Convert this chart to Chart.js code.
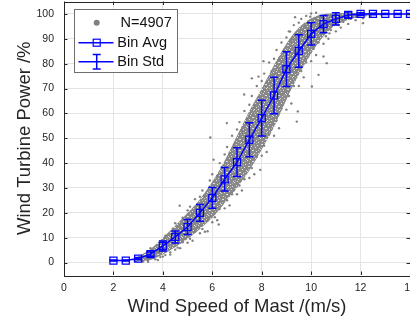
<!DOCTYPE html>
<html>
<head>
<meta charset="utf-8">
<script src="https://cdn.jsdelivr.net/npm/chart.js@4.4.1/dist/chart.umd.min.js"></script>
<style>
  html, body { margin: 0; padding: 0; background: #fff; overflow: hidden; }
  #wrap { width: 410px; height: 325px; overflow: hidden; }
</style>
</head>
<body>
<div id="wrap"><canvas id="c" width="430" height="325"></canvas></div>
<script>
// Ветровая турбина: облако точек + средние по бинам со std.

// ---- данные ----
const binX = [2, 2.5, 3, 3.5, 4, 4.5, 5, 5.5, 6, 6.5, 7, 7.5, 8, 8.5, 9, 9.5, 10, 10.5, 11, 11.5, 12, 12.5, 13, 13.5, 14];
const binAvg = [0.8, 0.8, 1.6, 3.4, 6.7, 10.3, 14.3, 20.0, 26.0, 33.5, 40.4, 49.4, 58.1, 67.2, 77.8, 85.1, 92.0, 95.9, 98.0, 99.6, 100, 100, 100, 100, 100];
const binStd = [0.2, 0.2, 0.4, 0.9, 2.0, 2.4, 3.0, 3.4, 4.2, 4.7, 5.8, 6.8, 7.2, 7.3, 7.0, 6.5, 4.5, 3.5, 2.5, 1.2, 0.5, 0.3, 0.2, 0.2, 0.2];

// плотное ядро облака (нижняя / верхняя граница)
const bandX    = [2.8, 3.0, 3.5, 4.0, 4.5, 5.0, 5.5, 6.0, 6.5, 7.0, 7.5, 8.0, 8.5, 9.0, 9.5, 10.0, 10.5, 11.0, 11.5, 12.0, 12.5, 12.9];
const bandLow  = [0.4, 0.5, 1.0, 3.2, 6.2, 9.5, 13.5, 18.0, 24.0, 30.0, 37.0, 45.5, 54.5, 65.5, 75.5, 84.0, 91.0, 95.5, 97.6, 99.0, 99.6, 99.8];
const bandHigh = [1.0, 2.4, 5.5, 10.0, 14.8, 20.0, 25.5, 32.5, 41.0, 51.0, 61.0, 70.0, 79.5, 88.0, 94.5, 98.3, 99.9, 100.3, 100.4, 100.4, 100.3, 100.2];

// отдельные точки по краям облака и выбросы
const scatterPts = [
  [2.9, 0.6], [3.1, 1.0], [3.2, 0.4], [3.3, 1.8], [3.4, 0.9], [3.6, 2.6], [3.7, 1.3], [3.8, 4.4],
  [3.9, 2.2], [4.1, 3.0], [4.2, 7.8], [4.3, 4.1], [4.4, 11.5], [4.6, 6.0], [4.7, 13.8], [4.8, 8.2],
  [4.9, 16.5], [5.1, 9.6], [5.2, 19.8], [5.3, 12.4], [5.4, 23.5], [5.6, 13.5], [5.7, 27.0], [5.8, 16.8],
  [5.9, 30.5], [6.1, 18.2], [6.2, 34.8], [6.3, 21.5], [6.4, 38.5], [6.6, 25.0], [6.7, 44.0], [6.8, 27.5],
  [6.9, 47.5], [7.1, 31.0], [7.2, 52.5], [7.3, 33.5], [7.4, 57.5], [7.6, 38.0], [7.7, 63.0], [7.8, 42.5],
  [7.9, 66.5], [8.1, 47.0], [8.2, 72.5], [8.3, 51.5], [8.4, 77.0], [8.6, 57.0], [8.7, 81.5], [8.8, 62.0],
  [8.9, 85.5], [9.1, 67.0], [9.2, 89.5], [9.3, 71.0], [9.4, 92.0], [9.6, 77.0], [9.7, 95.0], [9.8, 80.5],
  [9.9, 96.5], [10.1, 86.0], [10.2, 98.0], [10.3, 88.5], [10.4, 99.0], [10.6, 91.0], [10.7, 99.5], [10.8, 93.5],
  [11.1, 95.5], [11.3, 96.8], [11.4, 100.6], [11.6, 98.0], [11.8, 98.8], [12.0, 100.6], [12.2, 99.4], [12.4, 99.8],
  [12.6, 100.5], [12.8, 99.9], [13.0, 100.1],
  // левая (верхняя) кромка
  [3.5, 5.8], [3.9, 8.5], [4.1, 10.8], [4.4, 13.6], [4.5, 15.8], [4.8, 18.0], [5.0, 21.0], [5.1, 22.5],
  [5.3, 25.5], [5.5, 26.5], [5.6, 29.0], [5.9, 33.0], [6.0, 35.5], [6.3, 40.0], [6.5, 43.5], [6.6, 46.5],
  [6.8, 51.0], [7.0, 53.5], [7.1, 56.5], [7.3, 61.0], [7.5, 63.5], [7.6, 67.0], [7.8, 71.0], [8.0, 73.0],
  [8.1, 76.0], [8.3, 80.5], [8.5, 82.0], [8.6, 85.5], [8.8, 88.5], [9.0, 90.5], [9.1, 93.0], [9.3, 95.5],
  [9.5, 96.5], [9.6, 98.0], [9.8, 99.2], [10.0, 100.2], [10.2, 100.5],
  // правая (нижняя) кромка
  [3.4, 0.3], [3.8, 1.0], [4.0, 2.4], [4.3, 3.2], [4.5, 5.2], [4.7, 5.8], [5.0, 8.0], [5.2, 8.8],
  [5.5, 11.8], [5.7, 12.4], [6.0, 16.2], [6.2, 17.0], [6.5, 21.8], [6.7, 23.0], [7.0, 27.5], [7.2, 29.0],
  [7.5, 34.0], [7.7, 35.5], [8.0, 43.0], [8.2, 44.5], [8.5, 51.0], [8.7, 54.0], [9.0, 61.5], [9.2, 64.0],
  [9.5, 71.0], [9.7, 74.5], [10.0, 81.0], [10.2, 83.5], [10.5, 88.0], [10.7, 90.0], [11.0, 93.0], [11.2, 94.5],
  [11.5, 96.0], [11.8, 97.5], [12.1, 98.3], [12.4, 99.0],
  // выбросы
  [4.68, 22.9], [5.81, 12.6], [6.26, 15.3], [5.92, 50.3], [6.05, 41.4], [6.59, 56.1], [7.94, 37.3],
  [7.29, 67.6], [7.6, 74.1], [7.87, 74.8], [8.07, 81.0], [9.08, 73.5], [9.42, 56.7], [9.46, 60.8],
  [9.15, 92.9], [9.35, 98.7], [9.96, 98.9], [10.03, 70.8], [10.3, 75.5], [10.5, 82.9], [10.63, 80.2],
  [10.74, 92.2], [11.17, 96.9], [12.1, 96.3]
];

const xTicks = [0, 2, 4, 6, 8, 10, 12, 14];
const yTicks = [0, 10, 20, 30, 40, 50, 60, 70, 80, 90, 100];

const N_LABEL = 'N=4907';
const BLUE = '#0000ff';
const GRAY = '#808080';
const AXIS = '#262626';
const FONT = "'Liberation Sans', Arial, Helvetica, sans-serif";

// ---- текстура ядра облака ----
function speckle() {
  const c = document.createElement('canvas');
  c.width = 13; c.height = 11;
  const g = c.getContext('2d');
  g.fillStyle = '#888888';
  g.fillRect(0, 0, 13, 11);
  g.fillStyle = 'rgba(255,255,255,0.75)';
  const holes = [[1, 1], [2, 1], [6, 0], [10, 2], [4, 3], [8, 4], [12, 5], [0, 6], [5, 7], [6, 7],
                 [9, 8], [2, 9], [11, 10], [7, 10], [3, 5]];
  holes.forEach(([x, y]) => g.fillRect(x, y, 1, 1));
  g.fillStyle = 'rgba(255,255,255,0.4)';
  [[9, 0], [1, 4], [11, 7], [4, 10], [7, 2]].forEach(([x, y]) => g.fillRect(x, y, 1, 1));
  return g.createPattern(c, 'repeat');
}

// ---- плагины: рамка, засечки внутрь, error bars, легенда ----
const boxPlugin = {
  id: 'box',
  afterDraw(chart) {
    const { ctx, chartArea: a, scales: { x, y } } = chart;
    ctx.save();
    ctx.strokeStyle = AXIS;
    ctx.lineWidth = 1;
    ctx.beginPath();
    xTicks.forEach(v => {
      const px = Math.round(x.getPixelForValue(v)) + 0.5;
      ctx.moveTo(px, a.bottom); ctx.lineTo(px, a.bottom - 3.5);
      ctx.moveTo(px, a.top); ctx.lineTo(px, a.top + 3.5);
    });
    yTicks.forEach(v => {
      const py = Math.round(y.getPixelForValue(v)) + 0.5;
      ctx.moveTo(a.left, py); ctx.lineTo(a.left + 3.5, py);
      ctx.moveTo(a.right, py); ctx.lineTo(a.right - 3.5, py);
    });
    ctx.stroke();
    ctx.strokeRect(Math.round(a.left) + 0.5, Math.round(a.top) + 0.5,
      Math.round(a.right - a.left), Math.round(a.bottom - a.top));
    ctx.restore();
  }
};

const errPlugin = {
  id: 'errbars',
  afterDatasetsDraw(chart) {
    const { ctx, scales: { x, y } } = chart;
    ctx.save();
    ctx.strokeStyle = BLUE;
    ctx.lineWidth = 1.5;
    ctx.beginPath();
    binX.forEach((bx, i) => {
      const px = x.getPixelForValue(bx);
      const hi = y.getPixelForValue(binAvg[i] + binStd[i]);
      const lo = y.getPixelForValue(binAvg[i] - binStd[i]);
      ctx.moveTo(px, hi); ctx.lineTo(px, lo);
      ctx.moveTo(px - 4, hi); ctx.lineTo(px + 4, hi);
      ctx.moveTo(px - 4, lo); ctx.lineTo(px + 4, lo);
    });
    ctx.stroke();
    ctx.restore();
  }
};

const legendPlugin = {
  id: 'matLegend',
  afterDraw(chart) {
    const ctx = chart.ctx;
    ctx.save();
    ctx.fillStyle = '#fff';
    ctx.fillRect(74.5, 9.5, 103, 63);
    ctx.strokeStyle = '#6e6e6e';
    ctx.lineWidth = 1;
    ctx.strokeRect(74.5, 9.5, 103, 63);

    // N
    ctx.fillStyle = GRAY;
    ctx.beginPath();
    ctx.arc(96.7, 22.7, 3, 0, Math.PI * 2);
    ctx.fill();

    // Bin Avg
    ctx.strokeStyle = BLUE;
    ctx.lineWidth = 1.5;
    ctx.beginPath();
    ctx.moveTo(78.5, 42.7); ctx.lineTo(113.5, 42.7);
    ctx.stroke();
    ctx.lineWidth = 1.2;
    ctx.strokeRect(93.2, 39.2, 7, 7);

    // Bin Std
    ctx.lineWidth = 1.5;
    ctx.beginPath();
    ctx.moveTo(78.5, 61.7); ctx.lineTo(113.5, 61.7);
    ctx.moveTo(96.7, 54.5); ctx.lineTo(96.7, 69);
    ctx.moveTo(92.7, 54.5); ctx.lineTo(100.7, 54.5);
    ctx.moveTo(92.7, 69); ctx.lineTo(100.7, 69);
    ctx.stroke();

    ctx.fillStyle = '#111';
    ctx.font = `14.5px ${FONT}`;
    ctx.textBaseline = 'middle';
    ctx.textAlign = 'left';
    ctx.fillText(N_LABEL, 120.5, 23);
    ctx.fillText('Bin Avg', 117.3, 43);
    ctx.fillText('Bin Std', 117.3, 62);
    ctx.restore();
  }
};

// ---- график ----
function init() {
  if (typeof Chart === 'undefined') { setTimeout(init, 50); return; }

  const tickFont = { family: FONT, size: 10.5 };
  const titleFont = { family: FONT, size: 18.5 };
  const gridColor = '#e4e4e4';

  new Chart(document.getElementById('c').getContext('2d'), {
    type: 'scatter',
    data: {
      datasets: [
        {
          type: 'line',
          label: 'Bin Avg',
          data: binX.map((x, i) => ({ x, y: binAvg[i] })),
          borderColor: BLUE,
          borderWidth: 1.5,
          pointStyle: 'rect',
          pointRadius: 5,
          pointBorderColor: BLUE,
          pointBackgroundColor: 'rgba(0,0,0,0)',
          pointBorderWidth: 1.2,
          fill: false,
          order: 0,
        },
        {
          label: N_LABEL,
          data: scatterPts.map(([x, y]) => ({ x, y })),
          backgroundColor: GRAY,
          borderWidth: 0,
          pointRadius: 1.2,
          order: 1,
        },
        {
          type: 'line',
          label: 'band-low',
          data: bandX.map((x, i) => ({ x, y: bandLow[i] })),
          borderWidth: 0,
          pointRadius: 0,
          tension: 0.3,
          fill: false,
          order: 3,
        },
        {
          type: 'line',
          label: 'band-high',
          data: bandX.map((x, i) => ({ x, y: bandHigh[i] })),
          borderWidth: 0,
          pointRadius: 0,
          tension: 0.3,
          backgroundColor: speckle(),
          fill: '-1',
          order: 2,
        },
      ],
    },
    options: {
      responsive: false,
      animation: false,
      layout: { autoPadding: false, padding: { top: 1.5, right: 20, left: 0, bottom: 0 } },
      plugins: { legend: { display: false }, tooltip: { enabled: false } },
      scales: {
        x: {
          type: 'linear',
          min: 0, max: 14,
          afterBuildTicks: s => { s.ticks = xTicks.map(v => ({ value: v })); },
          afterFit: s => { s.height = 50; s.paddingLeft = 0; s.paddingRight = 0; },
          ticks: { font: tickFont, color: AXIS, padding: 7 },
          grid: { color: gridColor, drawTicks: false },
          border: { display: false },
          title: {
            display: true, text: 'Wind Speed of Mast /(m/s)',
            font: titleFont, color: AXIS, padding: { top: 0, bottom: 7 },
          },
        },
        y: {
          min: -5, max: 105,
          afterBuildTicks: s => { s.ticks = yTicks.map(v => ({ value: v })); },
          afterFit: s => { s.width = 64; s.paddingTop = 0; s.paddingBottom = 0; },
          ticks: { font: tickFont, color: AXIS, padding: 10 },
          grid: { color: gridColor, drawTicks: false },
          border: { display: false },
          title: {
            display: true, text: 'Wind Turbine Power /%',
            font: titleFont, color: AXIS, padding: { top: 14, bottom: 0 },
          },
        },
      },
    },
    plugins: [errPlugin, boxPlugin, legendPlugin],
  });
}

if (document.readyState === 'loading') {
  document.addEventListener('DOMContentLoaded', init);
} else {
  init();
}
</script>
</body>
</html>
